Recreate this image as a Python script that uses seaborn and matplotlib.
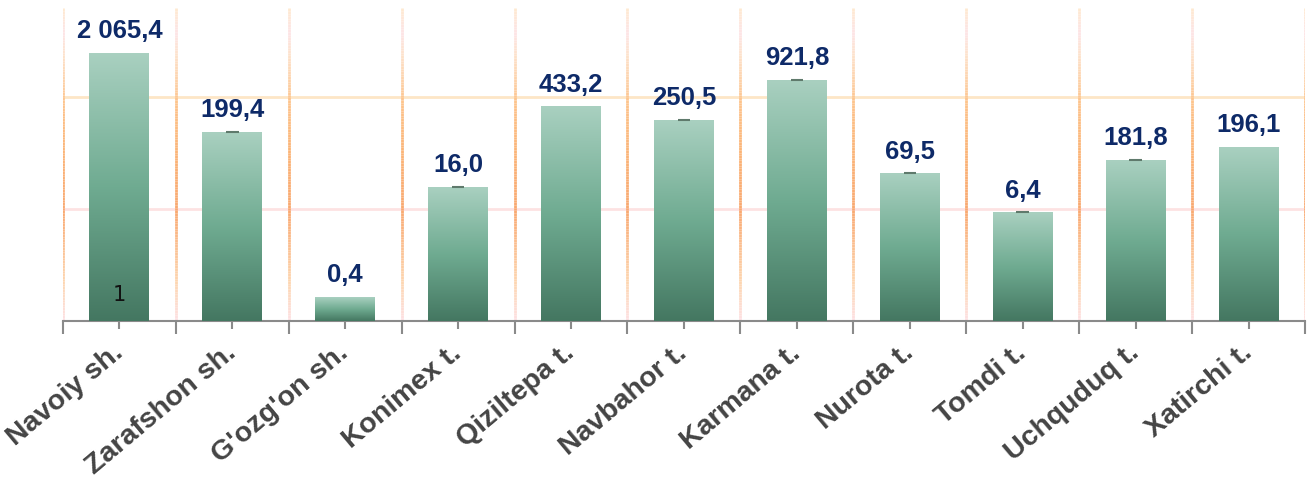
import numpy as np
import pandas as pd
import matplotlib
matplotlib.use("Agg")
import matplotlib.pyplot as plt
import matplotlib.transforms as mtransforms
from matplotlib.colors import LinearSegmentedColormap
from matplotlib.collections import LineCollection
import seaborn as sns

# ---- data ----
categories = ["Navoiy sh.", "Zarafshon sh.", "G'ozg'on sh.", "Konimex t.", "Qiziltepa t.",
              "Navbahor t.", "Karmana t.", "Nurota t.", "Tomdi t.", "Uchquduq t.", "Xatirchi t."]
bar_heights = [2.40, 1.69, 0.21, 1.20, 1.92, 1.80, 2.16, 1.32, 0.97, 1.44, 1.56]
value_labels = ["2 065,4", "199,4", "0,4", "16,0", "433,2", "250,5", "921,8",
                "69,5", "6,4", "181,8", "196,1"]
cap_marks = [False, True, False, True, False, True, True, True, True, True, False]

sns.set_theme(style="white")
plt.rcParams['font.family'] = ['Liberation Sans', 'DejaVu Sans']

fig = plt.figure(figsize=(13.11, 4.86), dpi=100)
ax = fig.add_axes([0.048, 0.3405, 0.9474, 0.6425])

df = pd.DataFrame({"cat": categories, "h": bar_heights})
sns.barplot(data=df, x="cat", y="h", width=0.53, color="#6aa88e", ax=ax, zorder=3)

ax.set_xlim(-0.5, len(categories) - 0.5)
ax.set_ylim(0, 2.8)

# gradient fill for bars
bar_cmap = LinearSegmentedColormap.from_list("g", ["#a9d0c0", "#6fab91", "#447761"])
grad = np.linspace(0, 1, 256).reshape(-1, 1)
for p in ax.patches:
    x0, y0 = p.get_x(), p.get_y()
    w, h = p.get_width(), p.get_height()
    p.set_facecolor("none")
    p.set_edgecolor("none")
    im = ax.imshow(grad, cmap=bar_cmap, aspect="auto", extent=[x0, x0 + w, y0, y0 + h],
                   origin="upper", zorder=3)
    im.set_clip_path(p)

# caps
for i, (hgt, c) in enumerate(zip(bar_heights, cap_marks)):
    if c:
        ax.hlines(hgt, i - 0.055, i + 0.055, color="#5f7a6c", lw=1.5, zorder=4)

# horizontal gridlines
ax.axhline(2, color="#fde6c6", lw=2, zorder=1)
ax.axhline(1, color="#fde2e2", lw=2, zorder=1)

# vertical gradient gridlines
vcmap = LinearSegmentedColormap.from_list(
    "v", [(0.0, "#fde0e2"), (0.12, "#fdd6b0"), (0.35, "#f9a870"), (0.55, "#fbb578"),
          (0.7, "#fdc48c"), (0.85, "#fde2cc"), (0.92, "#fde4e6"), (1.0, "#fee9cf")])
ys = np.linspace(0, 2.8, 120)
for b in np.arange(-0.5, len(categories), 1.0):
    segs = [[(b, ys[k]), (b, ys[k + 1])] for k in range(len(ys) - 1)]
    lc = LineCollection(segs, colors=vcmap(ys[:-1] / 2.8), linewidths=2, zorder=1)
    ax.add_collection(lc)

# value labels
for i, (hgt, lab) in enumerate(zip(bar_heights, value_labels)):
    ax.annotate(lab, (i, hgt), xytext=(0, 7), textcoords="offset points",
                ha="center", va="bottom", fontsize=18.5, fontweight="bold",
                color="#0e2a68", zorder=5)

ax.text(0, 0.23, "1", ha="center", va="center", fontsize=15, color="#111111",
        family="DejaVu Sans", zorder=5)

# spines and ticks
for s in ["top", "right", "left"]:
    ax.spines[s].set_visible(False)
ax.spines["bottom"].set_color("#8a8a8a")
ax.spines["bottom"].set_linewidth(1.5)
ax.set_yticks([])
ax.set_ylabel("")
ax.set_xlabel("")
ax.set_xticks(np.arange(-0.5, len(categories), 1.0))
ax.set_xticklabels([])
ax.tick_params(axis="x", which="major", length=9, width=1.5, color="#8a8a8a",
               direction="out", bottom=True)
ax.set_xticks(np.arange(len(categories)), minor=True)
ax.set_xticklabels(categories, minor=True, rotation=40, ha="right", va="center",
                   rotation_mode="anchor", fontsize=20.5, fontweight="bold", color="#444444")
shift = mtransforms.ScaledTranslation(3 / 100, 0, fig.dpi_scale_trans)
for t in ax.get_xticklabels(minor=True):
    t.set_transform(t.get_transform() + shift)
ax.tick_params(axis="x", which="minor", length=6, width=1.5, color="#8a8a8a",
               direction="out", bottom=True, pad=15)
ax.grid(False)

fig.savefig("out.png", dpi=100)
